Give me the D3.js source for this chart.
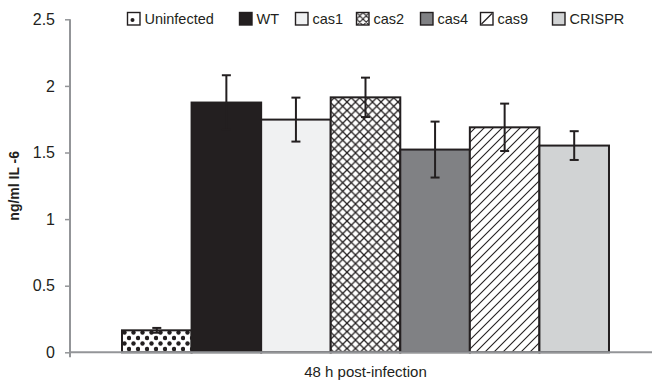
<!DOCTYPE html>
<html>
<head>
<meta charset="utf-8">
<script src="https://cdn.jsdelivr.net/npm/d3@7"></script>
<style>
  html, body { margin: 0; padding: 0; background: #fff; }
  svg { display: block; font-family: "Liberation Sans", Arial, sans-serif; }
</style>
</head>
<body>
<svg id="chart" width="652" height="382"></svg>
<script>
// IL-6 secretion, 48 h post-infection
const groups = ["48 h post-infection"];
const strains = ["Uninfected", "WT", "cas1", "cas2", "cas4", "cas9", "CRISPR"];
const means = [0.165, 1.875, 1.747, 1.914, 1.522, 1.689, 1.552];
const errors = [0.018, 0.205, 0.165, 0.148, 0.21, 0.178, 0.108];
const yTicks = [0, 0.5, 1, 1.5, 2, 2.5];
const yTickLabels = ["0", "0.5", "1", "1.5", "2", "2.5"];

const ink = "#231f20";
const axisGrey = "#939598";
const fills = {
  Uninfected: "url(#dots)",
  WT: ink,
  cas1: "#f0f1f2",
  cas2: "url(#cross)",
  cas4: "#808184",
  cas9: "url(#diag)",
  CRISPR: "#d1d3d4"
};
// legend slot offsets (px) along the top row
const legendX = [127, 239, 295, 356, 420, 480, 552];

const svg = d3.select("#chart");
const margin = { left: 70, right: 652, top: 19.3, bottom: 352.3 };

// ---- fill patterns ----
const defs = svg.append("defs");

const dots = defs.append("pattern").attr("id", "dots")
  .attr("patternUnits", "userSpaceOnUse").attr("width", 9).attr("height", 11)
  .attr("x", 122).attr("y", 0);
dots.append("rect").attr("width", 9).attr("height", 11).attr("fill", "#fff");
[[2.5, 2.5], [7, 8]].forEach(p => {
  dots.append("circle").attr("cx", p[0]).attr("cy", p[1]).attr("r", 2.2).attr("fill", ink);
});

const cross = defs.append("pattern").attr("id", "cross")
  .attr("patternUnits", "userSpaceOnUse").attr("width", 8.5).attr("height", 8.5)
  .attr("x", 330).attr("y", 0);
cross.append("rect").attr("width", 8.5).attr("height", 8.5).attr("fill", "#fff");
cross.append("path").attr("d", "M0,0L8.5,8.5M8.5,0L0,8.5")
  .attr("stroke", ink).attr("stroke-width", 1.3);

const diag = defs.append("pattern").attr("id", "diag")
  .attr("patternUnits", "userSpaceOnUse").attr("width", 9).attr("height", 9);
diag.append("rect").attr("width", 9).attr("height", 9).attr("fill", "#fff");
diag.append("path").attr("d", "M-1,10L10,-1M-1,1L1,-1M8,10L10,8")
  .attr("stroke", ink).attr("stroke-width", 1.1);

// legend swatch pattern for the cross-hatched strain
const crossL = defs.append("pattern").attr("id", "crossL")
  .attr("patternUnits", "objectBoundingBox").attr("width", 1).attr("height", 1);
crossL.append("rect").attr("width", 13).attr("height", 13).attr("fill", "#fff");
crossL.append("path").attr("d", "M0,0L13,13M13,0L0,13M6.5,0L13,6.5L6.5,13L0,6.5Z")
  .attr("stroke", ink).attr("stroke-width", 1.1).attr("fill", "none");

// ---- scales ----
const y = d3.scaleLinear().domain([0, 2.5]).range([margin.bottom, margin.top]);
const x0 = d3.scaleBand().domain(groups).range([margin.left, 661])
  .paddingInner(0).paddingOuter(0.1068);
const x1 = d3.scaleBand().domain(strains).range([0, x0.bandwidth()]).padding(0);

// ---- y axis ----
const yAxis = d3.axisLeft(y).tickValues(yTicks)
  .tickFormat((d, i) => yTickLabels[i]).tickSize(5).tickPadding(10);
const gy = svg.append("g").attr("transform", `translate(${margin.left},0)`).call(yAxis);
gy.select(".domain").attr("stroke", axisGrey).attr("stroke-width", 2)
  .attr("d", `M0,${margin.top}V${margin.bottom + 5}`);
gy.selectAll(".tick line").attr("stroke", axisGrey).attr("stroke-width", 1.5);
gy.selectAll(".tick text").attr("fill", ink).style("font-size", "16px")
  .style("font-family", "'Liberation Sans', Arial, sans-serif");

// ---- bars ----
const g = svg.append("g");
groups.forEach(grp => {
  const gx = x0(grp);
  g.selectAll(null).data(strains).enter().append("rect")
    .attr("x", s => gx + x1(s))
    .attr("y", (s, i) => y(means[i]))
    .attr("width", x1.bandwidth())
    .attr("height", (s, i) => y(0) - y(means[i]))
    .attr("fill", s => fills[s])
    .attr("stroke", ink).attr("stroke-width", 2);

  // error bars
  const eb = g.selectAll(null).data(strains).enter().append("g")
    .attr("stroke", ink).attr("stroke-width", 2);
  const cx = s => gx + x1(s) + x1.bandwidth() / 2;
  eb.append("line")
    .attr("x1", cx).attr("x2", cx)
    .attr("y1", (s, i) => y(means[i] + errors[i]))
    .attr("y2", (s, i) => y(means[i] - errors[i]));
  [1, -1].forEach(sign => {
    eb.append("line")
      .attr("x1", s => cx(s) - 4.5)
      .attr("x2", s => cx(s) + 4.5)
      .attr("y1", (s, i) => y(means[i] + sign * errors[i]))
      .attr("y2", (s, i) => y(means[i] + sign * errors[i]));
  });

  // category label
  svg.append("text")
    .attr("x", gx + x0.bandwidth() / 2).attr("y", 377)
    .attr("text-anchor", "middle").attr("fill", ink)
    .style("font-size", "15px").text(grp);
});

// ---- x axis ----
svg.append("line")
  .attr("x1", margin.left).attr("x2", margin.right)
  .attr("y1", y(0)).attr("y2", y(0))
  .attr("stroke", axisGrey).attr("stroke-width", 2);

// ---- y title ----
svg.append("text")
  .attr("transform", `translate(19,${(margin.top + margin.bottom) / 2}) rotate(-90)`)
  .attr("text-anchor", "middle").attr("fill", ink)
  .style("font-size", "14px").style("font-weight", "bold")
  .text("ng/ml IL -6");

// ---- legend ----
const legend = svg.append("g");
strains.forEach((s, i) => {
  const item = legend.append("g").attr("transform", `translate(${legendX[i]},12)`);
  const sw = 12.5;
  let swFill = fills[s];
  if (s === "cas2") swFill = "url(#crossL)";
  if (s === "Uninfected" || s === "cas9") swFill = "#fff";
  item.append("rect").attr("x", 0.5).attr("y", 0.5).attr("width", sw).attr("height", sw)
    .attr("fill", swFill).attr("stroke", ink).attr("stroke-width", 1.4);
  if (s === "Uninfected") {
    item.append("circle").attr("cx", 5.5).attr("cy", 8).attr("r", 2).attr("fill", ink);
  }
  if (s === "cas9") {
    item.append("line").attr("x1", 1.5).attr("y1", 12).attr("x2", 12).attr("y2", 1.5)
      .attr("stroke", ink).attr("stroke-width", 1.2);
  }
  item.append("text").attr("x", sw + 5).attr("y", 11.5)
    .attr("fill", ink).style("font-size", "14.5px").text(s);
});
</script>
</body>
</html>
